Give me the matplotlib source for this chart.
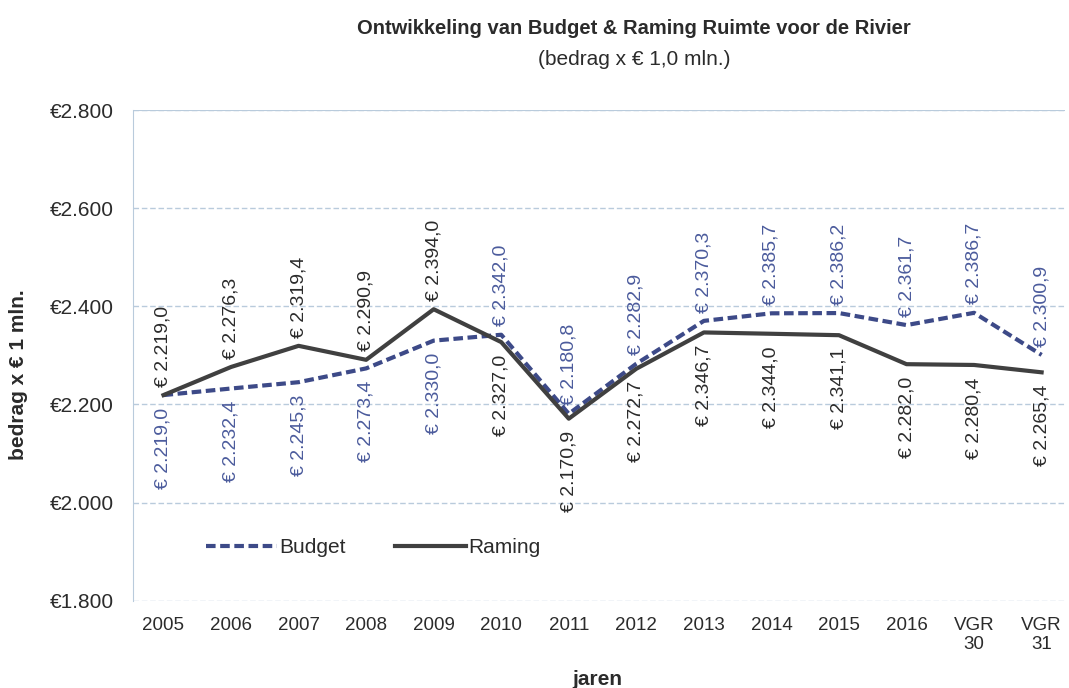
import matplotlib
matplotlib.use("Agg")
import matplotlib.pyplot as plt
from matplotlib.ticker import FuncFormatter

plt.rcParams["font.family"] = ["Liberation Sans", "DejaVu Sans"]

categories = ["2005", "2006", "2007", "2008", "2009", "2010", "2011",
              "2012", "2013", "2014", "2015", "2016", "VGR\n30", "VGR\n31"]
budget = [2219.0, 2232.4, 2245.3, 2273.4, 2330.0, 2342.0, 2180.8,
          2282.9, 2370.3, 2385.7, 2386.2, 2361.7, 2386.7, 2300.9]
raming = [2219.0, 2276.3, 2319.4, 2290.9, 2394.0, 2327.0, 2170.9,
          2272.7, 2346.7, 2344.0, 2341.1, 2282.0, 2280.4, 2265.4]

BUDGET_COLOR = "#3d4a88"
BUDGET_TEXT = "#4b5b9c"
RAMING_COLOR = "#404040"
TEXT_COLOR = "#2b2b2b"
GRID_COLOR = "#b9cbdc"


def euro(v, decimals=1):
    s = f"{v:,.{decimals}f}"
    return s.replace(",", "X").replace(".", ",").replace("X", ".")


fig = plt.figure(figsize=(10.69, 6.88), dpi=100)
ax = fig.add_axes([0.1245, 0.127, 0.872, 0.713])

x = list(range(len(categories)))
ax.plot(x, budget, color=BUDGET_COLOR, lw=3, ls=(0, (2.3, 1.1)), label="Budget")
ax.plot(x, raming, color=RAMING_COLOR, lw=3, label="Raming")

# higher value goes above the lines, lower one below
for i in x:
    b, r = budget[i], raming[i]
    if r >= b:
        top, top_c, bot, bot_c = r, TEXT_COLOR, b, BUDGET_TEXT
    else:
        top, top_c, bot, bot_c = b, BUDGET_TEXT, r, TEXT_COLOR
    ax.annotate(f"€ {euro(top)}", (i, top), xytext=(0, 6), textcoords="offset points",
                rotation=90, ha="center", va="bottom", fontsize=14, color=top_c)
    ax.annotate(f"€ {euro(bot)}", (i, bot), xytext=(0, -9), textcoords="offset points",
                rotation=90, ha="center", va="top", fontsize=14, color=bot_c)

ax.set_ylim(1800, 2800)
ax.set_yticks(range(1800, 2801, 200))
ax.yaxis.set_major_formatter(FuncFormatter(lambda v, _: "€" + euro(v, 0)))
ax.set_xlim(-0.45, 13.35)
ax.set_xticks(x)
ax.set_xticklabels(categories, fontsize=13.5, linespacing=1.1)
ax.tick_params(axis="both", length=0, colors=TEXT_COLOR)
ax.tick_params(axis="x", pad=12)
ax.tick_params(axis="y", pad=14, labelsize=15)

ax.grid(axis="y", color=GRID_COLOR, ls=(0, (4, 2)), lw=1)
for side in ["top", "right", "bottom"]:
    ax.spines[side].set_visible(False)
ax.spines["left"].set_color(GRID_COLOR)
ax.axhline(2800, color=GRID_COLOR, lw=1.5)

ax.set_ylabel("bedrag x € 1 mln.", fontsize=15, fontweight="bold", color=TEXT_COLOR)
ax.yaxis.set_label_coords(-0.113, 0.46)
ax.set_xlabel("jaren", fontsize=15, fontweight="bold", color=TEXT_COLOR)
ax.xaxis.set_label_coords(0.498, -0.142)

leg = ax.legend(loc="lower left", bbox_to_anchor=(0.058, 0.05), ncol=2, frameon=False,
                fontsize=15, handlelength=3.4, handletextpad=0.1, columnspacing=2.4)
for t in leg.get_texts():
    t.set_color(TEXT_COLOR)

fig.text(0.593, 0.958, "Ontwikkeling van Budget & Raming Ruimte voor de Rivier",
         ha="center", va="center", fontsize=14.5, fontweight="bold", color=TEXT_COLOR)
fig.text(0.593, 0.914, "(bedrag x € 1,0 mln.)", ha="center", va="center",
         fontsize=15, color=TEXT_COLOR)

fig.savefig("out.png", dpi=100)
